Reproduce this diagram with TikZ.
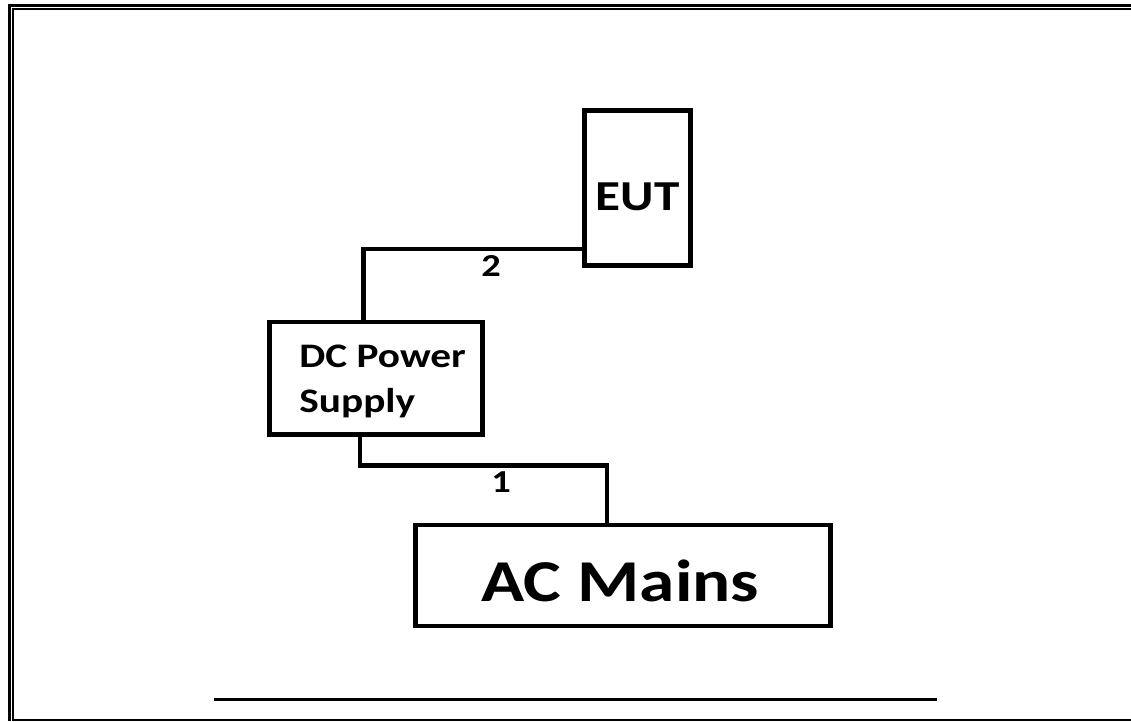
\documentclass[tikz,border=0pt]{standalone}
\usepackage{fontspec}
\setmainfont{Carlito}[FakeStretch=1.2]
\usepackage{tikz}
\usetikzlibrary{positioning}

\begin{document}
\begin{tikzpicture}[x=0.75pt, y=-0.75pt,
    unit/.style={draw, line width=3.3pt, inner sep=0pt},
    wire/.style={line width=3.4pt},
    pin/.style={inner sep=0pt, font=\bfseries\fontsize{24}{26}\selectfont}]
    \useasboundingbox (0,0) rectangle (1131,721);

    % frame
    \draw[line width=2.4pt] (9.5,721) -- (9.5,5.5) -- (1131,5.5);
    \draw[line width=1.5pt] (1131,719.5) -- (12.5,719.5) -- (12.5,8.5) -- (1131,8.5);

    % units
    \node[unit, minimum width=79.5pt, minimum height=116.25pt,
          label={[inner sep=0pt, yshift=-6.5pt, font=\bfseries\fontsize{32}{36}\selectfont]center:EUT}]
          (eut) at (637.5,188) {};
    \node[unit, minimum width=159.75pt, minimum height=84.4pt,
          label={[inner sep=0pt, align=left, xshift=5pt, yshift=-2.5pt,
                  font=\bfseries\fontsize{25.8}{34}\selectfont]center:DC Power\\Supply}]
          (dc) at (376,378.25) {};
    \node[unit, minimum width=311.25pt, minimum height=75.75pt,
          label={[inner sep=0pt, xshift=-2pt, yshift=-4pt, font=\bfseries\fontsize{44.5}{50}\selectfont]center:AC Mains}]
          (ac) at (623,575.5) {};

    % cables
    \draw[wire] ([yshift=13.9pt]eut.south west) -| ([xshift=-9.4pt]dc.north);
    \draw[wire] ([xshift=-12pt]dc.south) -- ++(0,29) -| ([xshift=-12pt]ac.north);

    \node[pin] (lbl2) at (491,266) {2};
    \node[pin] (lbl1) at (501,482) {1};

    % rule below
    \draw[line width=2pt] (214,699.5) -- (937,699.5);
\end{tikzpicture}
\end{document}
